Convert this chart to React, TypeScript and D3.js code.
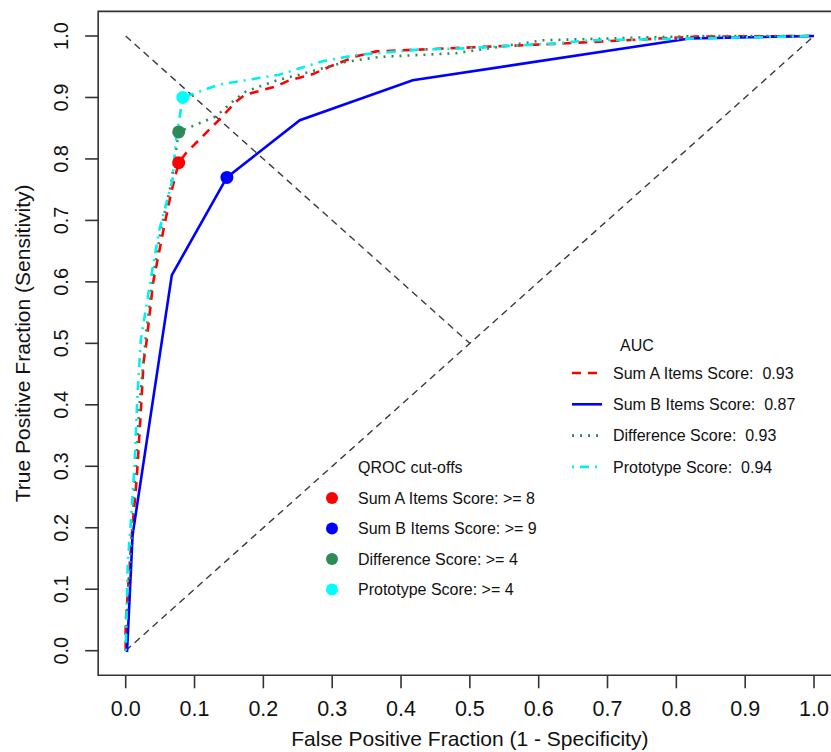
import React from "react";
import * as d3 from "d3";

// ROC curves: [false positive fraction, true positive fraction]
const sumA: [number, number][] = [
  [0, 0], [0, 0.045], [0.009, 0.19], [0.016, 0.28], [0.022, 0.39], [0.026, 0.47],
  [0.03, 0.5], [0.04, 0.6], [0.054, 0.68], [0.066, 0.745], [0.077, 0.794],
  [0.088, 0.81], [0.136, 0.864], [0.16, 0.893], [0.173, 0.904], [0.218, 0.918],
  [0.238, 0.928], [0.272, 0.938], [0.298, 0.951], [0.335, 0.967], [0.364, 0.975],
  [0.62, 0.987], [0.829, 0.999], [1, 1],
];
const sumB: [number, number][] = [
  [0, 0], [0.002, 0], [0.01, 0.188], [0.067, 0.611], [0.147, 0.77],
  [0.253, 0.863], [0.417, 0.928], [0.819, 0.996], [1, 1],
];
const difference: [number, number][] = [
  [0, 0], [0, 0.03], [0.01, 0.21], [0.02, 0.4], [0.03, 0.52], [0.04, 0.61],
  [0.052, 0.69], [0.066, 0.76], [0.077, 0.844], [0.107, 0.858], [0.131, 0.869],
  [0.158, 0.896], [0.175, 0.91], [0.22, 0.928], [0.252, 0.937], [0.32, 0.958],
  [0.369, 0.966], [0.48, 0.972], [0.606, 0.993], [0.83, 1], [1, 1],
];
const prototype: [number, number][] = [
  [0, 0], [0.003, 0.143], [0.008, 0.218], [0.013, 0.305], [0.017, 0.414],
  [0.022, 0.506], [0.037, 0.609], [0.049, 0.685], [0.068, 0.766], [0.073, 0.831],
  [0.083, 0.9], [0.136, 0.921], [0.223, 0.937], [0.286, 0.959], [0.335, 0.969],
  [0.427, 0.978], [0.495, 0.98], [0.625, 0.988], [0.674, 0.993], [0.829, 0.996], [1, 1],
];

// QROC cut-off points, same order as the series
const cutoffFpf = [0.077, 0.147, 0.077, 0.083];
const cutoffTpf = [0.794, 0.77, 0.844, 0.9];

const aucLabels = [
  "Sum A Items Score:  0.93",
  "Sum B Items Score:  0.87",
  "Difference Score:  0.93",
  "Prototype Score:  0.94",
];
const qrocLabels = [
  "Sum A Items Score: >= 8",
  "Sum B Items Score: >= 9",
  "Difference Score: >= 4",
  "Prototype Score: >= 4",
];
const ticks = [0, 0.1, 0.2, 0.3, 0.4, 0.5, 0.6, 0.7, 0.8, 0.9, 1];

const colors = ["#ff0000", "#0000ff", "#2e8b57", "#00f0f0"];
const dashes = ["9,7", "none", "2,6", "2,6,9,6"];
const dotColors = ["#ff0000", "#0000ff", "#2e8b57", "#00ffff"];

const W = 831;
const H = 752;
const font = "'Liberation Sans', Arial, sans-serif";

export default function App() {
  const x = d3.scaleLinear().domain([0, 1]).range([125.7, 814]);
  const y = d3.scaleLinear().domain([0, 1]).range([650.7, 36]);
  const line = d3
    .line<[number, number]>()
    .x((d) => x(d[0]))
    .y((d) => y(d[1]));
  const series = [sumA, sumB, difference, prototype];

  const boxL = x(-0.04);
  const boxR = x(1.04);
  const boxT = y(1.04);
  const boxB = y(-0.04);

  return (
    <svg
      width={W}
      height={H}
      style={{ position: "absolute", left: 0, top: 0, background: "#fff" }}
      fontFamily={font}
    >
      <rect x={0} y={0} width={W} height={H} fill="#fff" />
      {/* reference diagonals */}
      <line x1={x(0)} y1={y(0)} x2={x(1)} y2={y(1)} stroke="#3a3a3a" strokeWidth={1.4} strokeDasharray="7,5" />
      <line x1={x(0)} y1={y(1)} x2={x(0.5)} y2={y(0.5)} stroke="#3a3a3a" strokeWidth={1.4} strokeDasharray="7,5" />

      {series.map((s, i) => (
        <path
          key={i}
          d={line(s) || ""}
          fill="none"
          stroke={colors[i]}
          strokeWidth={2.6}
          strokeDasharray={dashes[i]}
        />
      ))}

      {cutoffFpf.map((v, i) => (
        <circle key={i} cx={x(v)} cy={y(cutoffTpf[i])} r={6.5} fill={dotColors[i]} />
      ))}

      {/* frame */}
      <path
        d={`M${boxR},${boxT}H${boxL}V${boxB}H${boxR}`}
        fill="none"
        stroke="#333"
        strokeWidth={1.6}
      />

      {/* x axis */}
      {ticks.map((t) => (
        <g key={"x" + t}>
          <line x1={x(t)} x2={x(t)} y1={boxB} y2={boxB + 13} stroke="#333" strokeWidth={1.6} />
          <text x={x(t)} y={716} textAnchor="middle" fontSize={21.5} fill="#111">
            {t.toFixed(1)}
          </text>
        </g>
      ))}
      <text x={(boxL + boxR) / 2} y={746} textAnchor="middle" fontSize={21} fill="#111">
        False Positive Fraction (1 - Specificity)
      </text>

      {/* y axis */}
      {ticks.map((t) => (
        <g key={"y" + t}>
          <line x1={boxL - 13} x2={boxL} y1={y(t)} y2={y(t)} stroke="#333" strokeWidth={1.6} />
          <text
            transform={`translate(68,${y(t)}) rotate(-90)`}
            textAnchor="middle"
            fontSize={20}
            fill="#111"
          >
            {t.toFixed(1)}
          </text>
        </g>
      ))}
      <text
        transform={`translate(30,${(boxT + boxB) / 2}) rotate(-90)`}
        textAnchor="middle"
        fontSize={21}
        fill="#111"
      >
        True Positive Fraction (Sensitivity)
      </text>

      {/* AUC legend */}
      <text x={620} y={351} fontSize={16} fill="#111">AUC</text>
      {aucLabels.map((lab, i) => {
        const cy = 373 + i * 31.3;
        return (
          <g key={lab}>
            <line
              x1={572}
              x2={602}
              y1={cy}
              y2={cy}
              stroke={colors[i]}
              strokeWidth={2.6}
              strokeDasharray={dashes[i]}
            />
            <text x={613} y={cy + 5.8} fontSize={16} fill="#111" style={{ whiteSpace: "pre" }}>
              {lab}
            </text>
          </g>
        );
      })}

      {/* QROC legend */}
      <text x={358} y={473} fontSize={16} fill="#111">QROC cut-offs</text>
      {qrocLabels.map((lab, i) => {
        const cy = 498 + i * 30.5;
        return (
          <g key={lab}>
            <circle cx={332} cy={cy} r={6} fill={dotColors[i]} />
            <text x={358} y={cy + 5.8} fontSize={16} fill="#111" style={{ whiteSpace: "pre" }}>
              {lab}
            </text>
          </g>
        );
      })}
    </svg>
  );
}
